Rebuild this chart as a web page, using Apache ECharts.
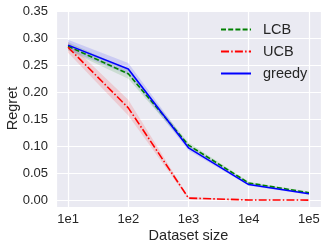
<!DOCTYPE html>
<html><head><meta charset="utf-8">
<script src="https://cdn.jsdelivr.net/npm/echarts@6/dist/echarts.min.js"></script>
<style>html,body{margin:0;padding:0;background:#fff}#c{width:327px;height:250px}</style>
</head><body><div id="c"></div>
<script>
const exponents = [1, 2, 3, 4, 5];
const tickLabels = ['1e1', '1e2', '1e3', '1e4', '1e5'];
const lcb = [0.285, 0.234, 0.102, 0.032, 0.014];
const lcbLow = [0.277, 0.225, 0.097, 0.030, 0.012];
const lcbHigh = [0.293, 0.242, 0.107, 0.034, 0.016];
const ucb = [0.283, 0.171, 0.004, 0.0005, 0.0003];
const ucbLow = [0.273, 0.157, 0.002, 0.0, 0.0];
const ucbHigh = [0.293, 0.186, 0.006, 0.001, 0.0006];
const greedy = [0.287, 0.243, 0.097, 0.029, 0.012];
const greedyLow = [0.278, 0.232, 0.092, 0.027, 0.010];
const greedyHigh = [0.297, 0.254, 0.102, 0.031, 0.014];

const pairs = arr => exponents.map((x, i) => [x, arr[i]]);

function band(name, lo, hi, color) {
  return {
    type: 'custom', name: name, silent: true, z: 1,
    data: exponents.map((x, i) => [x, lo[i], hi[i]]),
    encode: {x: 0, y: [1, 2]},
    renderItem: function (params, api) {
      if (params.dataIndexInside !== 0) return null;
      const n = params.dataInsideLength;
      const top = [], bot = [];
      for (let i = 0; i < n; i++) {
        const xv = api.value(0, i);
        top.push(api.coord([xv, api.value(2, i)]));
        bot.push(api.coord([xv, api.value(1, i)]));
      }
      return {type: 'polygon', shape: {points: top.concat(bot.reverse())},
              style: {fill: color, stroke: null}};
    }
  };
}

const chart = echarts.init(document.getElementById('c'), null, {renderer: 'canvas'});
const txt = '#262626';
const ff = 'Liberation Sans';
chart.setOption({
  animation: false,
  grid: {left: 56, right: 6, top: 10, bottom: 43, show: true, backgroundColor: '#EAEAF2',
         borderWidth: 0, containLabel: false, outerBoundsMode: 'none'},
  xAxis: {
    type: 'value', min: 0.8, max: 5.2, minInterval: 1, maxInterval: 1, splitNumber: 4,
    name: 'Dataset size', nameLocation: 'middle', nameGap: 21, nameMoveOverlap: false,
    nameTextStyle: {fontFamily: ff, fontSize: 14.5, color: txt},
    axisLine: {show: false}, axisTick: {show: false},
    axisLabel: {fontFamily: ff, fontSize: 13, color: txt, margin: 6,
      showMinLabel: false, showMaxLabel: false,
      formatter: v => { const i = exponents.indexOf(Math.round(v * 1000) / 1000); return i >= 0 ? tickLabels[i] : ''; }},
    splitLine: {show: true, lineStyle: {color: '#ffffff', width: 1.2}}
  },
  yAxis: {
    type: 'value', min: -0.0125, max: 0.352, minInterval: 0.05, maxInterval: 0.05, splitNumber: 7,
    name: 'Regret', nameLocation: 'middle', nameGap: 36, nameMoveOverlap: false,
    nameTextStyle: {fontFamily: ff, fontSize: 14.5, color: txt},
    axisLine: {show: false}, axisTick: {show: false},
    axisLabel: {fontFamily: ff, fontSize: 13, color: txt, margin: 8,
      showMinLabel: false, showMaxLabel: false,
      formatter: v => (Math.abs(v - Math.round(v / 0.05) * 0.05) < 1e-6) ? v.toFixed(2) : ''},
    splitLine: {show: true, lineStyle: {color: '#ffffff', width: 1.2}}
  },
  legend: {
    data: ['LCB', 'UCB', 'greedy'], orient: 'vertical', left: 215, top: 17,
    itemWidth: 30, itemHeight: 14, itemGap: 7,
    itemStyle: {color: 'rgba(0,0,0,0)', borderColor: 'rgba(0,0,0,0)', borderWidth: 0},
    textStyle: {fontFamily: ff, fontSize: 14.5, color: txt, padding: [0, 0, 0, 7]}
  },
  series: [
    band('lcbBand', lcbLow, lcbHigh, 'rgba(0,128,0,0.13)'),
    band('ucbBand', ucbLow, ucbHigh, 'rgba(255,0,0,0.13)'),
    band('greedyBand', greedyLow, greedyHigh, 'rgba(0,0,255,0.13)'),
    {type: 'line', name: 'LCB', data: pairs(lcb), symbol: 'none', z: 3,
     lineStyle: {color: '#008000', width: 1.6, type: [5, 2.2]}, itemStyle: {color: '#008000'}},
    {type: 'line', name: 'UCB', data: pairs(ucb), symbol: 'none', z: 3,
     lineStyle: {color: '#ff0000', width: 1.6, type: [8, 2.2, 1.5, 2.2]}, itemStyle: {color: '#ff0000'}},
    {type: 'line', name: 'greedy', data: pairs(greedy), symbol: 'none', z: 4,
     lineStyle: {color: '#0000ff', width: 1.6}, itemStyle: {color: '#0000ff'}}
  ]
});
</script></body></html>
